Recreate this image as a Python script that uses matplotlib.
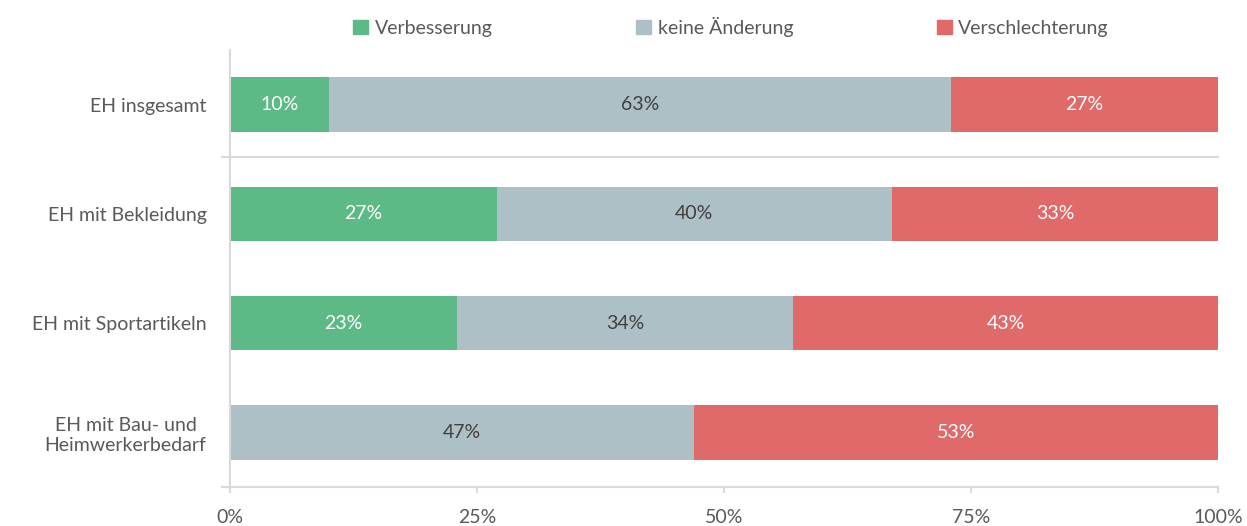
import matplotlib.pyplot as plt
import matplotlib.patches as patches
import numpy as np

plt.rcParams['font.family'] = ['Lato', 'DejaVu Sans']

categories = ["EH insgesamt", "EH mit Bekleidung", "EH mit Sportartikeln",
              "EH mit Bau- und\nHeimwerkerbedarf"]
series_names = ["Verbesserung", "keine Änderung", "Verschlechterung"]
verbesserung = [10, 27, 23, 0]
keine_aenderung = [63, 40, 34, 47]
verschlechterung = [27, 33, 43, 53]
x_ticks = [0, 25, 50, 75, 100]
x_tick_labels = ["0%", "25%", "50%", "75%", "100%"]

colors = ["#5DB986", "#ADC0C6", "#E0696A"]
text_colors = ["white", "#404040", "white"]
axis_gray = "#D9D9D9"
label_gray = "#595959"
fs = 14

fig = plt.figure(figsize=(12.47, 5.26), dpi=100)
ax = fig.add_axes([230 / 1247, 1 - 487 / 526, 988 / 1247, 437 / 526])

y = np.arange(len(categories))
left = np.zeros(len(categories))
for vals, col, tcol in zip([verbesserung, keine_aenderung, verschlechterung], colors, text_colors):
    vals = np.array(vals, dtype=float)
    ax.barh(y, vals, left=left, height=0.5, color=col)
    for yi, v, l in zip(y, vals, left):
        if v > 0:
            ax.text(l + v / 2, yi, "%d%%" % v, ha="center", va="center",
                    color=tcol, fontsize=fs)
    left += vals

ax.set_xlim(0, 100)
ax.set_ylim(3.5, -0.5)
ax.set_xticks(x_ticks)
ax.set_xticklabels(x_tick_labels)
ax.set_yticks(y)
ax.set_yticklabels(categories, multialignment="center")

for s in ["top", "right"]:
    ax.spines[s].set_visible(False)
ax.spines["left"].set_color(axis_gray)
ax.spines["bottom"].set_color(axis_gray)
ax.spines["left"].set_linewidth(1.5)
ax.spines["bottom"].set_linewidth(1.5)
ax.spines["bottom"].set_bounds(-0.8, 100)

ax.tick_params(axis="x", colors=axis_gray, length=4, width=1.5, labelsize=fs, pad=12)
ax.tick_params(axis="y", length=0, labelsize=fs, pad=17)
for t in ax.get_xticklabels() + ax.get_yticklabels():
    t.set_color(label_gray)

# separator below the first row
ax.plot([-0.8, 100], [0.48, 0.48], color=axis_gray, lw=1.5, clip_on=False)

handles = [patches.Patch(color=c) for c in colors]
leg = fig.legend(handles, series_names, loc="center", bbox_to_anchor=(731 / 1247, 1 - 27 / 526),
                 ncol=3, frameon=False, fontsize=fs, handlelength=0.75, handleheight=0.75,
                 handletextpad=0.35, columnspacing=7.4)
for t in leg.get_texts():
    t.set_color(label_gray)

plt.savefig("out.png", dpi=100)
